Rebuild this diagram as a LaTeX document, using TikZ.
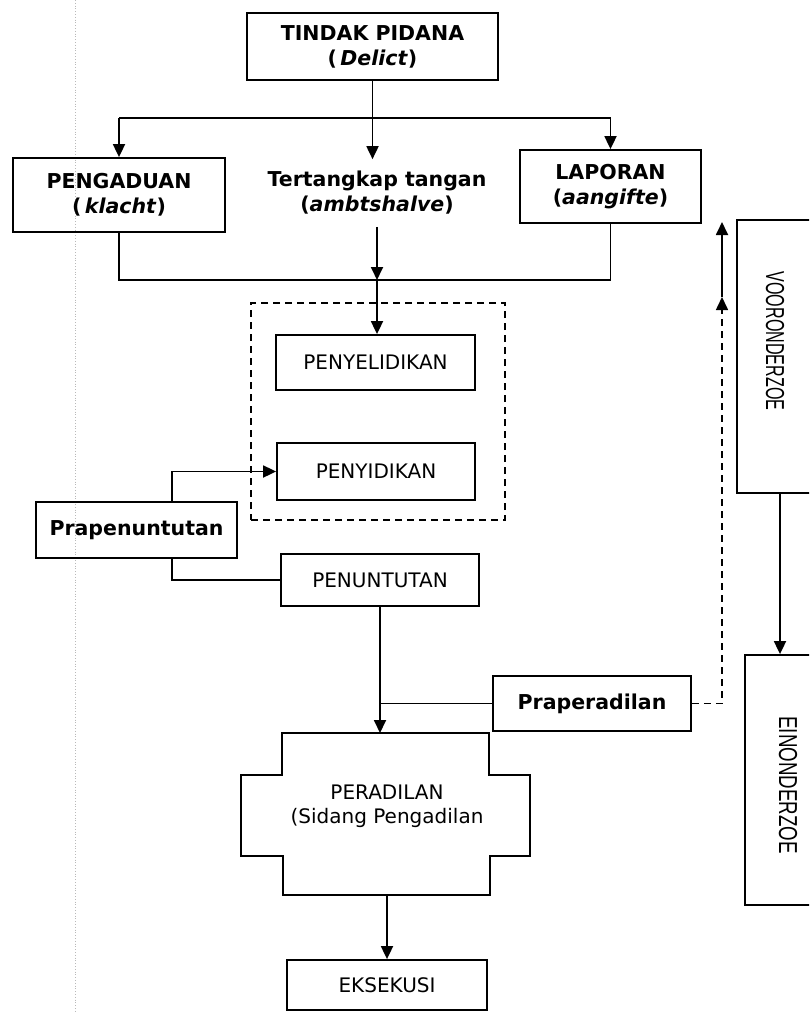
\documentclass[tikz,border=0pt]{standalone}
\usepackage{fontspec}
\setmainfont{DejaVu Sans}
\newfontfamily\arialf{Liberation Sans}
\usetikzlibrary{arrows.meta}
\begin{document}
\begin{tikzpicture}[x=1pt,y=-1pt,
  box/.style={draw, line width=1.8pt, inner sep=0pt, align=center},
  bfont/.style={font=\fontsize{20.5}{25}\selectfont\bfseries},
  nfont/.style={font=\fontsize{20}{24}\selectfont},
  ln/.style={line width=1.8pt},
  tip/.style={-{Triangle[length=13pt,width=12pt]}},
  arr/.style={ln, tip},
  dbox/.style={draw, line width=1.6pt, dash pattern=on 7pt off 5pt},
  vtext/.style={inner sep=0pt}]
\clip (0,0) rectangle (809,1012);
\fill[white] (0,0) rectangle (809,1012);
% faint scan margin
\draw[gray!55, dotted, line width=0.8pt] (75,0) -- (75,1012);

% nodes
\node[box,bfont,minimum width=251pt,minimum height=67pt] (tp) at (372.5,46.5) {TINDAK PIDANA\\(\,\textit{Delict})};
\node[box,bfont,minimum width=212pt,minimum height=74pt] (peng) at (119,195) {PENGADUAN\\(\,\textit{klacht})};
\node[bfont,align=center,inner sep=12pt] (tert) at (377,193) {Tertangkap tangan\\(\textit{ambtshalve})};
\node[box,bfont,minimum width=181pt,minimum height=73pt] (lap) at (610.5,186.5) {LAPORAN\\(\textit{aangifte})};

\node[dbox,minimum width=254pt,minimum height=217pt] (dash) at (378,411.5) {};
\node[box,nfont,minimum width=199pt,minimum height=55pt] (pyl) at (375.5,362.5) {PENYELIDIKAN};
\node[box,nfont,minimum width=198pt,minimum height=57pt] (pyd) at (376,471.5) {PENYIDIKAN};
\node[box,bfont,minimum width=201pt,minimum height=56pt] (prap) at (136.5,530) {Prapenuntutan};
\node[box,nfont,minimum width=198pt,minimum height=52pt] (pen) at (380,580) {PENUNTUTAN};
\node[box,bfont,minimum width=198pt,minimum height=55pt] (prpd) at (592,703.5) {Praperadilan};

% PERADILAN stepped shape
\draw[line width=1.8pt] (282,733) -- (489,733) -- (489,775) -- (530,775) -- (530,856) -- (490,856)
  -- (490,895) -- (283,895) -- (283,856) -- (241,856) -- (241,775) -- (282,775) -- cycle;
\node[nfont,align=center] (per) at (387,806) {PERADILAN\\(Sidang Pengadilan};
\coordinate (pertop) at (385,733);
\coordinate (perbot) at (387,895);

\node[box,nfont,minimum width=200pt,minimum height=50pt] (eks) at (387,985) {EKSEKUSI};

% right boxes
\node[draw,line width=1.8pt,minimum width=76pt,minimum height=273pt] (voor) at (775,356.5) {};
\node[vtext] (voort) at (775,341) {\rotatebox{-90}{\arialf\fontsize{26}{26}\selectfont\scalebox{0.62}[1]{VOORONDERZOE}}};
\node[draw,line width=1.8pt,minimum width=86pt,minimum height=250pt] (ein) at (788,780) {};
\node[vtext] (eint) at (788,785) {\rotatebox{-90}{\arialf\fontsize{26}{26}\selectfont\scalebox{0.72}[1]{EINONDERZOE}}};

% coordinates
\coordinate (hl) at (0,118);
\coordinate (bl) at (0,280);
\coordinate (pv) at (172,0);
\coordinate (xvo) at (780,0);
\coordinate (dup) at (722,297);
\coordinate (dtop) at (722,222);

% connectors top
\draw[ln] (peng.north |- hl) -- (lap.north |- hl);
\draw[arr] (peng.north |- hl) -- (peng.north);
\draw[arr] (lap.north |- hl) -- (lap.north);
\draw[arr] (tp.south) -- (tp.south |- tert.north);

% merge line
\draw[ln] (peng.south) |- (lap.south |- bl) -- (lap.south);
\draw[arr] (tert.south) -- (tert.south |- bl);
\draw[arr] (tert.south |- bl) -- (tert.south |- pyl.north);

% prapenuntutan
\draw[arr] (prap.north -| pv) |- (pyd.west);
\draw[ln] (prap.south -| pv) |- (pen.west);

% penuntutan to peradilan
\draw[arr] (pen.south) -- (pen.south |- pertop);
\draw[ln] (prpd.west) -- (prpd.west -| pen.south);
\draw[arr] (perbot) -- (eks.north -| perbot);

% right side
\draw[arr] (voor.south -| xvo) -- (ein.north -| xvo);
\draw[ln, line width=1.6pt, dash pattern=on 7pt off 5pt, tip] (prpd.east) -| (dup);
\draw[arr] (dup) -- (dtop);
\end{tikzpicture}
\end{document}
